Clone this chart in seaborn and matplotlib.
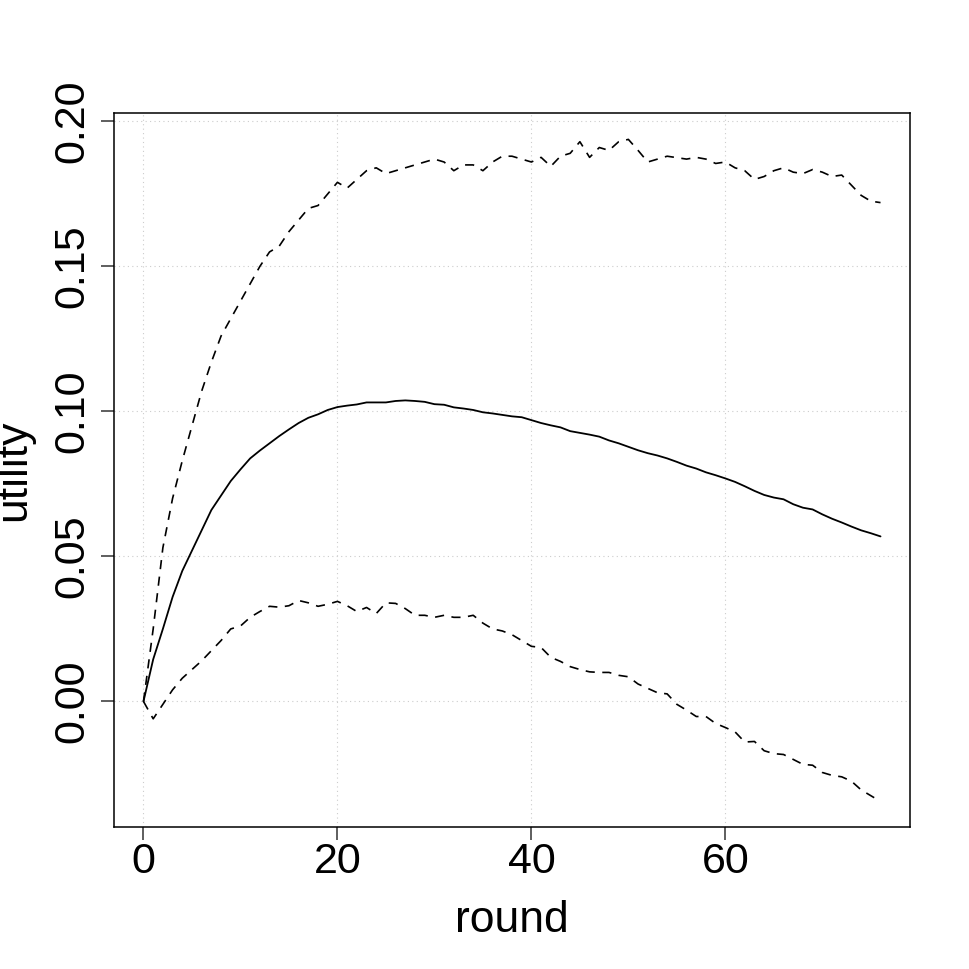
import numpy as np
import pandas as pd
import matplotlib
matplotlib.use("Agg")
import matplotlib.pyplot as plt
import seaborn as sns

rounds = list(range(77))

upper = [0.0, 0.025, 0.053, 0.07, 0.083, 0.095, 0.107, 0.117, 0.126, 0.132,
         0.138, 0.144, 0.150, 0.155, 0.157, 0.162, 0.166, 0.170, 0.171, 0.175,
         0.179, 0.177, 0.180, 0.183, 0.184, 0.182, 0.183, 0.184, 0.185, 0.186,
         0.187, 0.186, 0.183, 0.185, 0.185, 0.183, 0.186, 0.188, 0.188, 0.187,
         0.186, 0.1876, 0.1845, 0.188, 0.189, 0.193, 0.1876, 0.191, 0.190, 0.193,
         0.1938, 0.190, 0.186, 0.187, 0.188, 0.1875, 0.187, 0.1876, 0.187, 0.1855,
         0.186, 0.184, 0.183, 0.180, 0.181, 0.183, 0.184, 0.1825, 0.182, 0.1834,
         0.1825, 0.181, 0.1815, 0.178, 0.1745, 0.1725, 0.172]

mean = [0.0, 0.0145, 0.025, 0.036, 0.045, 0.052, 0.059, 0.066, 0.071, 0.076,
        0.080, 0.0838, 0.0865, 0.089, 0.0915, 0.0938, 0.096, 0.0978, 0.099, 0.1005,
        0.1015, 0.102, 0.1024, 0.1031, 0.1031, 0.1031, 0.1036, 0.1038, 0.1036, 0.1033,
        0.1025, 0.1023, 0.1014, 0.101, 0.1005, 0.0997, 0.0993, 0.0988, 0.0983, 0.098,
        0.097, 0.096, 0.0952, 0.0945, 0.0932, 0.0926, 0.092, 0.0913, 0.090, 0.089,
        0.0878, 0.0866, 0.0856, 0.0848, 0.0838, 0.0826, 0.0813, 0.0803, 0.079, 0.078,
        0.0769, 0.0757, 0.0742, 0.0726, 0.0712, 0.0703, 0.0697, 0.068, 0.0668, 0.0662,
        0.0645, 0.063, 0.0617, 0.0603, 0.059, 0.058, 0.0569]

lower = [0.0, -0.006, -0.001, 0.004, 0.008, 0.011, 0.014, 0.0175, 0.021, 0.025,
         0.026, 0.029, 0.031, 0.0328, 0.0325, 0.033, 0.0348, 0.034, 0.0328, 0.0335,
         0.0345, 0.033, 0.031, 0.0324, 0.0303, 0.034, 0.0338, 0.032, 0.0297, 0.0297,
         0.029, 0.0297, 0.029, 0.029, 0.0297, 0.027, 0.025, 0.0243, 0.023, 0.021,
         0.019, 0.0186, 0.0152, 0.0138, 0.012, 0.011, 0.0102, 0.010, 0.010, 0.009,
         0.0085, 0.006, 0.0045, 0.003, 0.0026, -0.001, -0.003, -0.0052, -0.0052, -0.0076,
         -0.009, -0.0105, -0.014, -0.0138, -0.017, -0.018, -0.0183, -0.020, -0.0217, -0.022,
         -0.0245, -0.0255, -0.026, -0.0275, -0.0305, -0.0325, -0.0345]

xticks = [0, 20, 40, 60]
yticks = [0.00, 0.05, 0.10, 0.15, 0.20]
ytick_labels = ["0.00", "0.05", "0.10", "0.15", "0.20"]

sns.set_theme(style="white")
plt.rcParams['font.family'] = ['Liberation Sans', 'DejaVu Sans']
plt.rcParams['text.color'] = 'black'
plt.rcParams['axes.labelcolor'] = 'black'

df = pd.DataFrame({"round": rounds, "upper": upper, "mean": mean, "lower": lower})

fig = plt.figure(figsize=(9.69, 9.69), dpi=100)
ax = fig.add_axes([114/969, 1 - 827/969, (910 - 114)/969, (827 - 113)/969])

dash = (0, (5.5, 4.5))
sns.lineplot(data=df, x="round", y="upper", ax=ax, color="black", lw=1.2, linestyle=dash)
sns.lineplot(data=df, x="round", y="mean", ax=ax, color="black", lw=1.3)
sns.lineplot(data=df, x="round", y="lower", ax=ax, color="black", lw=1.2, linestyle=dash)

ax.set_xlim(-3.04, 79.04)
ax.set_ylim(-0.0433, 0.2029)

ax.set_xticks(xticks)
ax.set_yticks(yticks)
ax.set_yticklabels(ytick_labels, rotation=90, va="center")

for v in xticks:
    ax.axvline(v, color="#cccccc", lw=0.8, linestyle=(0, (1, 3)), zorder=0)
for v in yticks:
    ax.axhline(v, color="#cccccc", lw=0.8, linestyle=(0, (1, 3)), zorder=0)

for s in ax.spines.values():
    s.set_color("black")
    s.set_linewidth(1.1)

ax.tick_params(axis="both", which="major", direction="out", length=9.5, width=1.1,
               color="#333333", labelsize=31, labelcolor="black",
               bottom=True, left=True)
ax.tick_params(axis="x", pad=1)
ax.tick_params(axis="y", pad=6)

ax.set_xlabel("round", fontsize=32, color="black")
ax.set_ylabel("utility", fontsize=32, color="black")
ax.xaxis.set_label_coords(0.5, (827 - 932) / 714)
ax.xaxis.label.set_va("baseline")
ax.yaxis.label.set_rotation_mode("anchor")
ax.yaxis.label.set_va("baseline")
ax.yaxis.label.set_ha("center")
ax.yaxis.set_label_coords((25 - 114) / 796, 0.5)

fig.savefig("out.png", dpi=100, facecolor="white")
